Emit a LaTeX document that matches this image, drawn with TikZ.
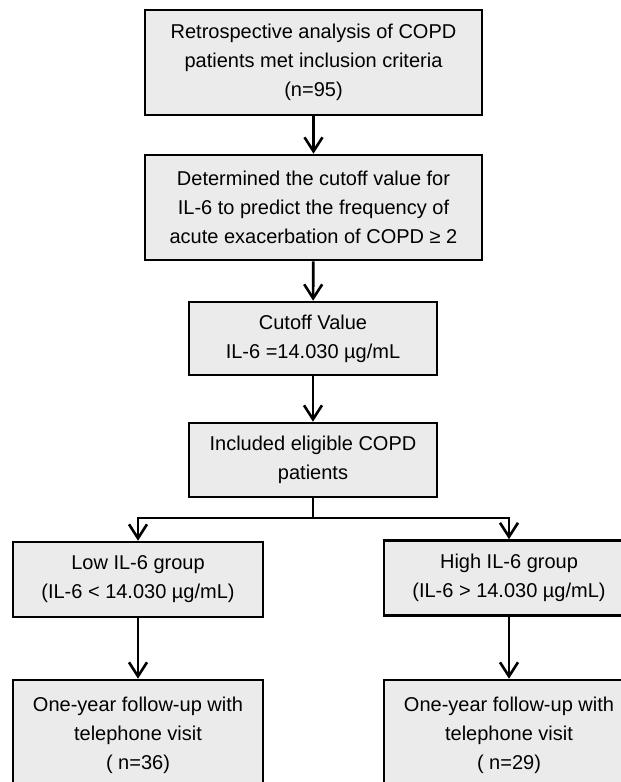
\documentclass[tikz,border=0pt]{standalone}
\usepackage{fontspec}
\setmainfont{Liberation Sans}
\usepackage{tikz}
\usetikzlibrary{arrows.meta,positioning,calc}
\definecolor{boxgray}{RGB}{235,235,235}

\begin{document}
\begin{tikzpicture}[x=0.5pt, y=-0.5pt,
    box/.style={draw, line width=1.3pt, fill=boxgray, align=center, inner sep=2pt,
      font=\fontsize{10}{14.5}\selectfont},
    arr/.style={line width=1.3pt, -{Straight Barb[length=7pt,width=9pt,line width=1.3pt]}}]
    \useasboundingbox (0, 0) rectangle (621, 782);

    \node[box, minimum width=168.5pt, minimum height=52.5pt] (retro) at (313.5, 62.5)
      {Retrospective analysis of COPD\\ patients met inclusion criteria\\ (n=95)};
    \node[box, minimum width=168.5pt, minimum height=52.5pt] (cutoff) at (313.5, 207.5)
      {Determined the cutoff value for\\ IL-6 to predict the frequency of\\ acute exacerbation of COPD ≥ 2};
    \node[box, minimum width=124pt, minimum height=36.5pt] (value) at (313, 338.5)
      {Cutoff Value\\ IL-6 =14.030 µg/mL};
    \node[box, minimum width=124pt, minimum height=37pt] (included) at (313, 460)
      {Included eligible COPD\\ patients};

    \node[box, minimum width=125pt, minimum height=37.5pt] (low) at (138, 579.5)
      {Low IL-6 group\\ (IL-6 < 14.030 µg/mL)};
    \node[box, minimum width=125pt, minimum height=37.5pt] (high) at (509, 578)
      {High IL-6 group\\ (IL-6 > 14.030 µg/mL)};

    \node[box, minimum width=125pt, minimum height=55pt] (lowfollow) at (138, 735)
      {One-year follow-up with\\ telephone visit\\ ( n=36)};
    \node[box, minimum width=125pt, minimum height=55pt] (highfollow) at (509, 735)
      {One-year follow-up with\\ telephone visit\\ ( n=29)};

    \coordinate (split) at (313, 518);

    \draw[arr] (retro) -- (cutoff);
    \draw[arr] (cutoff) -- (value);
    \draw[arr] (value) -- (included);
    \draw[arr] (included.south) -- (split) -| (low.north);
    \draw[arr] (split) -| (high.north);
    \draw[arr] (low) -- (lowfollow);
    \draw[arr] (high) -- (highfollow);
  \end{tikzpicture}
\end{document}
